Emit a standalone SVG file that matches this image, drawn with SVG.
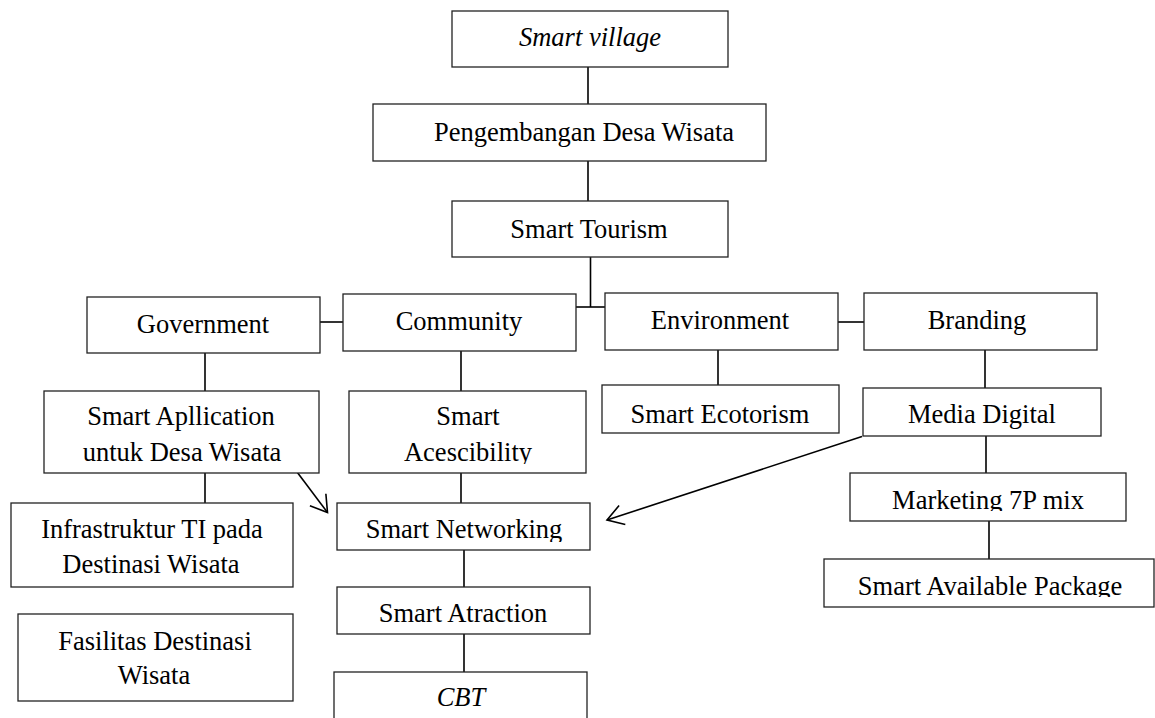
<svg xmlns="http://www.w3.org/2000/svg" width="1155" height="718" viewBox="0 0 1155 718">
<style>
.box{fill:#fff;stroke:#222;stroke-width:1.3}
.t{font-family:"Liberation Serif","Times New Roman",serif;font-size:26.5px;fill:#000;text-anchor:middle}
.i{font-style:italic}
.c{stroke:#000;stroke-width:1.6;fill:none}
</style>
<defs>
<marker id="ah" markerUnits="userSpaceOnUse" markerWidth="24" markerHeight="26" viewBox="-20 -13 24 26" refX="0" refY="0" orient="auto" overflow="visible">
<path d="M-16,-10 L0,0 L-16,10" fill="none" stroke="#000" stroke-width="1.6"/>
</marker>
<clipPath id="clAce"><rect x="349" y="391" width="237" height="73"/></clipPath>
<clipPath id="clNet"><rect x="337" y="503" width="253" height="39"/></clipPath>
<clipPath id="clMkt"><rect x="850" y="473" width="276" height="38"/></clipPath>
<clipPath id="clPkg"><rect x="824" y="559" width="330" height="38"/></clipPath>
</defs>
<rect width="1155" height="718" fill="#fff"/>
<g id="connectors">
<line class="c" x1="588" y1="67" x2="588" y2="104"/>
<line class="c" x1="588" y1="161" x2="588" y2="201"/>
<line class="c" x1="590.5" y1="257" x2="590.5" y2="307"/>
<line class="c" x1="576" y1="307" x2="605" y2="307"/>
<line class="c" x1="320" y1="322" x2="343" y2="322"/>
<line class="c" x1="838" y1="322" x2="864" y2="322"/>
<line class="c" x1="205" y1="353" x2="205" y2="391"/>
<line class="c" x1="461" y1="351" x2="461" y2="391"/>
<line class="c" x1="718" y1="350" x2="718" y2="385"/>
<line class="c" x1="985" y1="350" x2="985" y2="388"/>
<line class="c" x1="205" y1="473" x2="205" y2="503"/>
<line class="c" x1="461" y1="473" x2="461" y2="503"/>
<line class="c" x1="464" y1="550" x2="464" y2="587"/>
<line class="c" x1="464" y1="634" x2="464" y2="672"/>
<line class="c" x1="986" y1="436" x2="986" y2="473"/>
<line class="c" x1="989" y1="521" x2="989" y2="559"/>
<line class="c" x1="291" y1="464" x2="327.5" y2="512.5" marker-end="url(#ah)"/>
<line class="c" x1="862" y1="436.5" x2="607" y2="520" marker-end="url(#ah)"/>
</g>
<g id="smart-village"><rect class="box" x="452" y="11" width="276" height="56"/><text class="t i" x="590" y="46">Smart village</text></g>
<g id="pengembangan"><rect class="box" x="373" y="104" width="393" height="57"/><text class="t" x="584" y="141">Pengembangan Desa Wisata</text></g>
<g id="smart-tourism"><rect class="box" x="452" y="201" width="276" height="56"/><text class="t" x="589" y="238">Smart Tourism</text></g>
<g id="government"><rect class="box" x="87" y="297" width="233" height="56"/><text class="t" x="203" y="333">Government</text></g>
<g id="community"><rect class="box" x="343" y="294" width="233" height="57"/><text class="t" x="459" y="330">Community</text></g>
<g id="environment"><rect class="box" x="605" y="293" width="233" height="57"/><text class="t" x="720" y="329">Environment</text></g>
<g id="branding"><rect class="box" x="864" y="293" width="233" height="57"/><text class="t" x="977" y="329">Branding</text></g>
<g id="smart-application"><rect class="box" x="44" y="391" width="275" height="82"/><text class="t" x="181" y="425">Smart Apllication</text><text class="t" x="182" y="461">untuk Desa Wisata</text></g>
<g id="smart-acescibility"><rect class="box" x="349" y="391" width="237" height="82"/><g clip-path="url(#clAce)"><text class="t" x="468" y="425">Smart</text><text class="t" x="468" y="461">Acescibility</text></g></g>
<g id="smart-ecotorism"><rect class="box" x="602" y="385" width="237" height="48"/><text class="t" x="720" y="423">Smart Ecotorism</text></g>
<g id="media-digital"><rect class="box" x="863" y="388" width="238" height="48"/><text class="t" x="982" y="423">Media Digital</text></g>
<g id="infrastruktur"><rect class="box" x="11" y="503" width="282" height="84"/><text class="t" x="152" y="538">Infrastruktur TI pada</text><text class="t" x="151" y="573">Destinasi Wisata</text></g>
<g id="fasilitas"><rect class="box" x="18" y="614" width="275" height="87"/><text class="t" x="155" y="650">Fasilitas Destinasi</text><text class="t" x="154" y="684">Wisata</text></g>
<g id="smart-networking"><rect class="box" x="337" y="503" width="253" height="47"/><text class="t" x="464" y="538" clip-path="url(#clNet)">Smart Networking</text></g>
<g id="smart-atraction"><rect class="box" x="337" y="587" width="253" height="47"/><text class="t" x="463" y="622">Smart Atraction</text></g>
<g id="cbt"><rect class="box" x="334" y="672" width="253" height="60"/><text class="t i" x="461" y="706">CBT</text></g>
<g id="marketing"><rect class="box" x="850" y="473" width="276" height="48"/><text class="t" x="988" y="509" clip-path="url(#clMkt)">Marketing 7P mix</text></g>
<g id="package"><rect class="box" x="824" y="559" width="330" height="48"/><text class="t" x="990" y="595" clip-path="url(#clPkg)">Smart Available Package</text></g>
</svg>
